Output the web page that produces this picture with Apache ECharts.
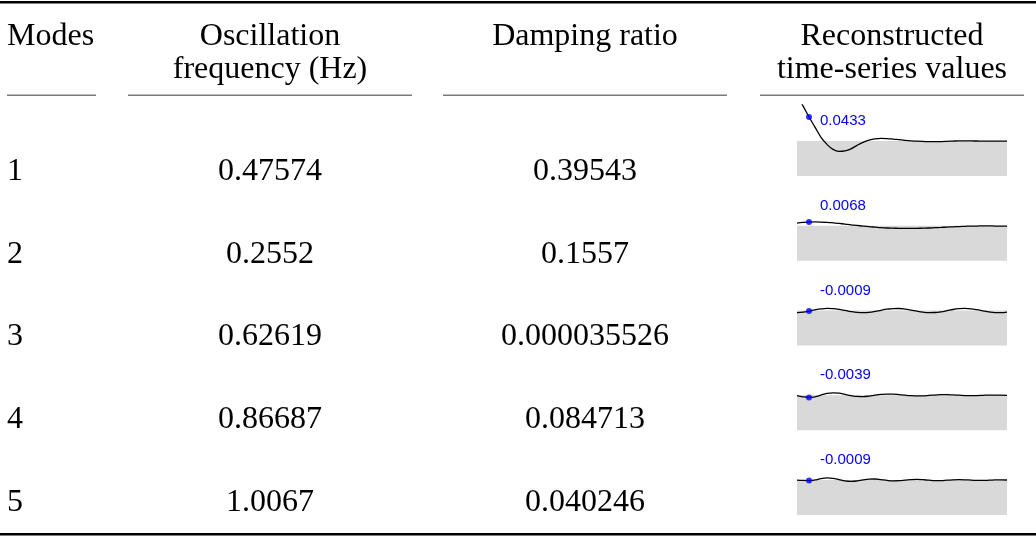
<!DOCTYPE html>
<html>
<head>
<meta charset="utf-8">
<script src="https://cdn.jsdelivr.net/npm/echarts@6/dist/echarts.min.js"></script>
<style>
  html, body { margin: 0; padding: 0; background: #ffffff; }
  #chart { width: 1036px; height: 537px; }
</style>
</head>
<body>
<div id="chart"></div>
<script>
// ---- Table content ----
const headerTop = ['Modes', 'Oscillation', 'Damping ratio', 'Reconstructed'];
const headerBottom = ['', 'frequency (Hz)', '', 'time-series values'];
const modes = ['1', '2', '3', '4', '5'];
const frequencies = ['0.47574', '0.2552', '0.62619', '0.86687', '1.0067'];
const dampingRatios = ['0.39543', '0.1557', '0.000035526', '0.084713', '0.040246'];

// ---- Reconstructed time-series, one array per mode (36 samples each) ----
const mode1Values = [0.082, 0.0635, 0.0433, 0.0252, 0.0067, -0.006, -0.015, -0.0186, -0.0177, -0.014,
  -0.0078, -0.0023, 0.0016, 0.004, 0.0049, 0.0045, 0.0036, 0.0025, 0.0014, 0.0005,
  -0.0002, -0.0007, -0.0011, -0.0011, -0.0009, -0.0005, 0, 0.0004, 0.0005, 0.0002,
  0.0001, 0, 0, 0, 0, 0];
const mode2Values = [0.005, 0.0063, 0.0068, 0.007, 0.0068, 0.0063, 0.0054, 0.0043, 0.0031, 0.0018,
  0.0007, -0.0005, -0.0016, -0.0025, -0.0034, -0.004, -0.0043, -0.0045, -0.0047, -0.0047,
  -0.0045, -0.0043, -0.004, -0.0034, -0.0029, -0.0023, -0.0018, -0.0013, -0.0009, -0.0005,
  -0.0004, -0.0002, -0.0002, -0.0004, -0.0005, -0.0007];
const mode3Values = [-0.0037, -0.0027, -0.0009, 0.0012, 0.0029, 0.0038, 0.0035, 0.0022, 0.0002, -0.0018,
  -0.0033, -0.0038, -0.0032, -0.0016, 0.0005, 0.0024, 0.0036, 0.0037, 0.0027, 0.0009,
  -0.0012, -0.0029, -0.0038, -0.0035, -0.0022, -0.0002, 0.0019, 0.0033, 0.0038, 0.0031,
  0.0015, -0.0005, -0.0024, -0.0036, -0.0037, -0.0027];
const mode4Values = [-0.0004, -0.0027, -0.0039, -0.0027, 0.0004, 0.0034, 0.0045, 0.0038, 0.0016, -0.0005,
  -0.002, -0.0023, -0.0014, 0.0002, 0.0016, 0.0023, 0.0022, 0.0013, 0.0002, -0.0007,
  -0.0011, -0.0009, -0.0002, 0.0005, 0.0011, 0.0011, 0.0007, 0.0002, -0.0004, -0.0005,
  -0.0004, 0, 0.0004, 0.0004, 0.0002, -0.0002];
const mode5Values = [-0.0002, -0.0007, -0.0009, 0.0002, 0.0025, 0.0038, 0.003, 0.0008, -0.0016, -0.0025,
  -0.0016, 0.0004, 0.0018, 0.0019, 0.0008, -0.0006, -0.0014, -0.0011, -0.0002, 0.0008,
  0.0011, 0.0006, -0.0003, -0.0009, -0.0009, -0.0003, 0.0004, 0.0007, 0.0005, -0.0001,
  -0.0005, -0.0006, -0.0003, 0.0002, 0.0003, 0.0001];
const sparkSeries = [mode1Values, mode2Values, mode3Values, mode4Values, mode5Values];
const markedIndex = 2;   // sample highlighted with a dot and its value

// ---- Layout ----
const FONT = '32px "Liberation Serif", "DejaVu Serif", serif';
const LABEL_FONT = '15px "Liberation Sans Narrow", "Liberation Sans", Arial, sans-serif';
const columns = [
  { x1: 7, x2: 96, align: 'left' },
  { x1: 128, x2: 412, align: 'center' },
  { x1: 443, x2: 727, align: 'center' },
  { x1: 760, x2: 1024, align: 'center' }
];
const HEADER_Y1 = 37, HEADER_Y2 = 70;
const ROW_Y0 = 171.5, ROW_STEP = 82.75;
const SPARK_LEFT = 797, SPARK_WIDTH = 210, SPARK_HEIGHT = 71;
const SPARK_BOTTOM0 = 176, SPARK_STEP = 84.75;
const Y_MIN = -0.063, Y_MAX = 0.065, BAND_TOP = 0;

const graphics = [];
// top, bottom and column rules
graphics.push({ type: 'rect', shape: { x: 0, y: 1, width: 1036, height: 2.6 }, style: { fill: '#000' }, silent: true });
graphics.push({ type: 'rect', shape: { x: 0, y: 533, width: 1036, height: 2.6 }, style: { fill: '#000' }, silent: true });
columns.forEach(c => {
  graphics.push({ type: 'rect', shape: { x: c.x1, y: 94.5, width: c.x2 - c.x1, height: 1.6 }, style: { fill: '#7a7a7a' }, silent: true });
});
function colX(c) { return c.align === 'left' ? c.x1 : (c.x1 + c.x2) / 2; }
function addText(txt, c, y) {
  if (!txt) return;
  graphics.push({
    type: 'text', x: colX(c), y: y, silent: true,
    style: { text: txt, font: FONT, fill: '#000', align: c.align, verticalAlign: 'middle' }
  });
}
headerTop.forEach((t, i) => addText(t, columns[i], HEADER_Y1));
headerBottom.forEach((t, i) => addText(t, columns[i], HEADER_Y2));
modes.forEach((m, r) => {
  const y = ROW_Y0 + r * ROW_STEP;
  addText(m, columns[0], y);
  addText(frequencies[r], columns[1], y);
  addText(dampingRatios[r], columns[2], y);
});

// one small grid per sparkline
const grids = [], xAxes = [], yAxes = [], series = [];
const sampleIdx = mode1Values.map((_, i) => i);
sparkSeries.forEach((vals, r) => {
  const bottom = SPARK_BOTTOM0 + r * SPARK_STEP;
  grids.push({ left: SPARK_LEFT, top: bottom - SPARK_HEIGHT, width: SPARK_WIDTH, height: SPARK_HEIGHT });
  xAxes.push({ type: 'category', gridIndex: r, data: sampleIdx, boundaryGap: false, show: false });
  yAxes.push({ type: 'value', gridIndex: r, min: Y_MIN, max: Y_MAX, show: false });
  series.push({
    type: 'line', xAxisIndex: r, yAxisIndex: r, data: vals, smooth: 0.4,
    showSymbol: false, clip: true, silent: true,
    lineStyle: { color: '#000', width: 1.3 },
    markArea: {
      silent: true,
      itemStyle: { color: '#d9d9d9' },
      data: [[{ yAxis: Y_MIN }, { yAxis: BAND_TOP }]]
    },
    z: 3
  });
  series.push({
    type: 'scatter', xAxisIndex: r, yAxisIndex: r, silent: true,
    data: [[markedIndex, vals[markedIndex]]],
    symbolSize: 6, itemStyle: { color: '#0000ff' }, z: 5
  });
  graphics.push({
    type: 'text', x: SPARK_LEFT + 23, y: bottom - 55, silent: true,
    style: { text: vals[markedIndex].toFixed(4), font: LABEL_FONT, fill: '#0000ff', align: 'left', verticalAlign: 'middle' }
  });
});

const chart = echarts.init(document.getElementById('chart'), null, { renderer: 'canvas' });
chart.setOption({
  animation: false,
  backgroundColor: '#ffffff',
  grid: grids,
  xAxis: xAxes,
  yAxis: yAxes,
  series: series,
  graphic: { elements: graphics }
});
</script>
</body>
</html>
